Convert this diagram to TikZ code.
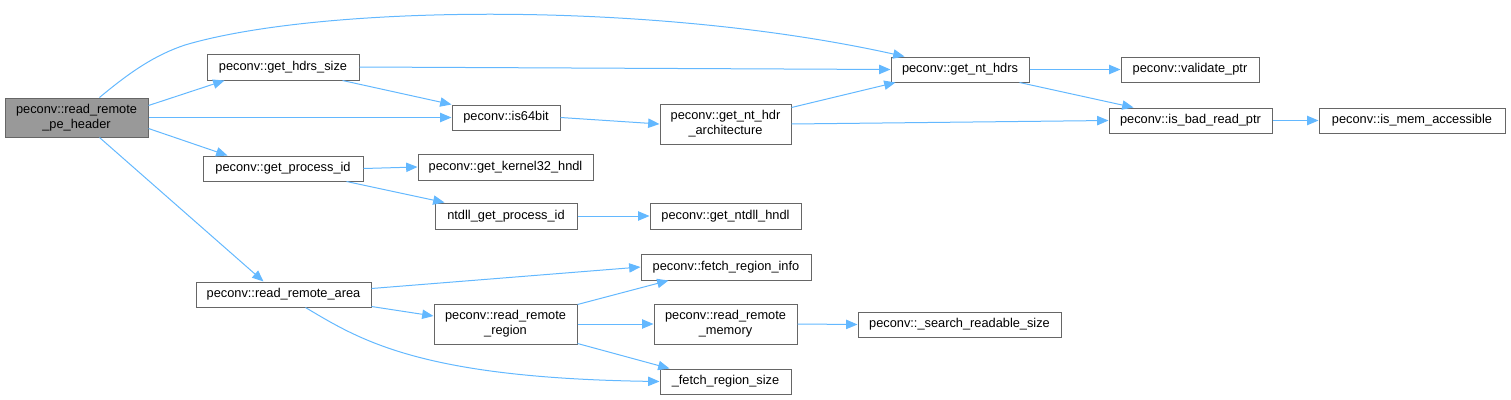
\documentclass[tikz,border=0pt]{standalone}
\usepackage{fontspec}
\setmainfont{Liberation Sans}
\usetikzlibrary{arrows.meta,calc}
\definecolor{edgeblue}{HTML}{63B8FF}
\definecolor{boxgray}{HTML}{666666}
\definecolor{rootfill}{HTML}{999999}
\begin{document}
\begin{tikzpicture}[x=0.75pt,y=-0.75pt,
  fn/.style={draw=boxgray,line width=0.75pt,fill=white,inner sep=0pt,align=center,
    font=\fontsize{9.6}{11.25}\selectfont,text=black},
  rootbox/.style={fn,fill=rootfill},
  call/.style={draw=edgeblue,line width=0.75pt,-{Triangle[length=8.5pt,width=7pt]}}]
\useasboundingbox (0,0) rectangle (1511,400);
% nodes (centres in px)
\node[rootbox,minimum width=107.25pt,minimum height=29.25pt] (root) at (76.5,117.5) {peconv::read\_remote\\\_pe\_header};
\node[fn,minimum width=114pt,minimum height=19.5pt] (hdrs) at (283,67) {peconv::get\_hdrs\_size};
\node[fn,minimum width=81pt,minimum height=18.75pt] (is64) at (506,117.5) {peconv::is64bit};
\node[fn,minimum width=120pt,minimum height=18.75pt] (getpid) at (283,168.5) {peconv::get\_process\_id};
\node[fn,minimum width=131.25pt,minimum height=18.75pt] (rra) at (283.5,294.5) {peconv::read\_remote\_area};
\node[fn,minimum width=103.5pt,minimum height=18.75pt] (gnh) at (960,69.5) {peconv::get\_nt\_hdrs};
\node[fn,minimum width=98.25pt,minimum height=30pt] (gnha) at (725.5,124) {peconv::get\_nt\_hdr\\\_architecture};
\node[fn,minimum width=103.5pt,minimum height=18.75pt] (vp) at (1190,69.5) {peconv::validate\_ptr};
\node[fn,minimum width=122.25pt,minimum height=18.75pt] (ibrp) at (1190.5,120.5) {peconv::is\_bad\_read\_ptr};
\node[fn,minimum width=139.5pt,minimum height=18.75pt] (ima) at (1412,120.5) {peconv::is\_mem\_accessible};
\node[fn,minimum width=131.25pt,minimum height=19.5pt] (k32) at (505.5,167) {peconv::get\_kernel32\_hndl};
\node[fn,minimum width=106.5pt,minimum height=19.5pt] (ngpi) at (506,216) {ntdll\_get\_process\_id};
\node[fn,minimum width=113.25pt,minimum height=19.5pt] (gnth) at (725.5,216) {peconv::get\_ntdll\_hndl};
\node[fn,minimum width=127.5pt,minimum height=19.5pt] (fri) at (726,267) {peconv::fetch\_region\_info};
\node[fn,minimum width=107.25pt,minimum height=30pt] (rrr) at (505.5,324) {peconv::read\_remote\\\_region};
\node[fn,minimum width=107.25pt,minimum height=30pt] (rrm) at (725.5,324) {peconv::read\_remote\\\_memory};
\node[fn,minimum width=152.25pt,minimum height=18.75pt] (srs) at (959.5,324.5) {peconv::\_search\_readable\_size};
\node[fn,minimum width=98.25pt,minimum height=18.75pt] (frs) at (725.5,381.5) {\_fetch\_region\_size};
% connectors
\draw[call] ($(root.north west)+(95,0)$) .. controls (130,72) and (155,55) .. (185,45)
  .. controls (320,5) and (650,0) .. ($(gnh.north west)+(14,0)$);
\draw[call] ($(root.north east)+(0,8)$) -- ($(hdrs.south west)+(18,0)$);
\draw[call] (root.east) -- (is64.west);
\draw[call] ($(root.south east)+(0,-9)$) -- ($(getpid.north west)+(25,0)$);
\draw[call] ($(root.south west)+(95,0)$) -- ($(rra.north west)+(68,0)$);
\draw[call] (hdrs.east) -- (gnh.west);
\draw[call] ($(hdrs.south east)+(-17,0)$) -- (is64.north west);
\draw[call] (is64.east) -- (gnha.west);
\draw[call] ($(gnha.north east)+(0,4)$) -- ($(gnh.south west)+(5,0)$);
\draw[call] (gnha.east) -- (ibrp.west);
\draw[call] (gnh.east) -- (vp.west);
\draw[call] ($(gnh.south east)+(-10,0)$) -- ($(ibrp.north west)+(25,0)$);
\draw[call] (ibrp.east) -- (ima.west);
\draw[call] (getpid.east) -- (k32.west);
\draw[call] ($(getpid.south east)+(-17,0)$) -- ($(ngpi.north west)+(10,0)$);
\draw[call] (ngpi.east) -- (gnth.west);
\draw[call] ($(rra.north east)+(0,7)$) -- (fri.west);
\draw[call] ($(rra.south east)+(0,-1)$) -- ($(rrr.west)+(0,-8)$);
\draw[call] ($(rra.south west)+(110,0)$) .. controls (360,340) and (420,378) .. (frs.west);
\draw[call] ($(rrr.north east)+(0,1)$) -- ($(fri.south west)+(28,0)$);
\draw[call] (rrr.east) -- (rrm.west);
\draw[call] ($(rrr.south east)+(0,-1)$) -- ($(frs.north west)+(10,0)$);
\draw[call] (rrm.east) -- (srs.west);
\end{tikzpicture}
\end{document}
